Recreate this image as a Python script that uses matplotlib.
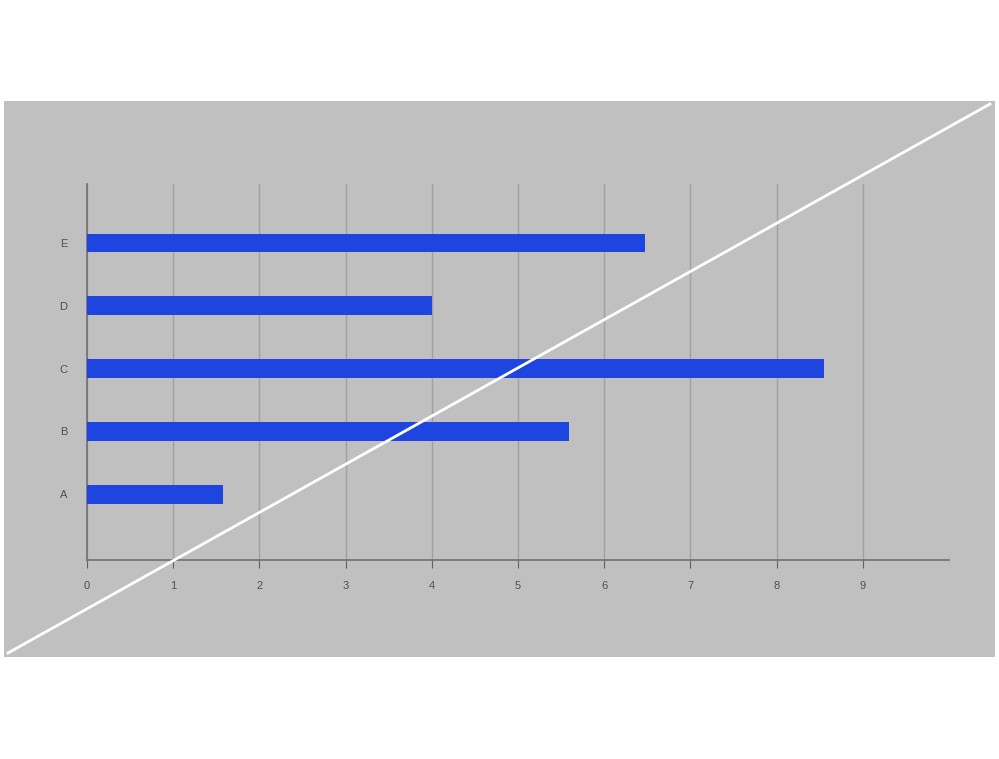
import matplotlib
matplotlib.use("Agg")
import matplotlib.pyplot as plt
from matplotlib.patches import Rectangle
from matplotlib.lines import Line2D

categories = ["A", "B", "C", "D", "E"]
values = [1.58, 5.59, 8.55, 4.0, 6.47]
x_ticks = [0, 1, 2, 3, 4, 5, 6, 7, 8, 9]

plt.rcParams['font.family'] = ['Liberation Sans', 'DejaVu Sans']

W, H = 999, 759
fig = plt.figure(figsize=(W / 100, H / 100), dpi=100)
fig.patch.set_facecolor("white")

# gray panel
fig.patches.append(Rectangle((4 / W, 1 - 657 / H), (995 - 4) / W, (657 - 101) / H,
                             transform=fig.transFigure, facecolor="#c0c0c0",
                             edgecolor="none", zorder=-10))

ax = fig.add_axes([87 / W, 1 - 560 / H, (949 - 87) / W, (560 - 184) / H])
ax.set_zorder(1)
ax.set_facecolor("none")
ypos = list(range(len(categories)))
ax.barh(ypos, values, height=0.3, color="#1f45e0", zorder=3)
ax.set_xlim(0, 10)
ax.set_ylim(-1.05, 4.94)
ax.set_xticks(x_ticks)
ax.set_xticklabels([str(t) for t in x_ticks])
ax.set_yticks(ypos)
ax.set_yticklabels(categories)
ax.grid(axis="x", color="#a0a0a0", linewidth=1.0, zorder=1)
for s in ["top", "right"]:
    ax.spines[s].set_visible(False)
for s in ["left", "bottom"]:
    ax.spines[s].set_color("#707070")
    ax.spines[s].set_linewidth(1.2)
ax.tick_params(axis="x", length=6, color="#606060", labelsize=8, labelcolor="#505050", pad=9)
ax.tick_params(axis="y", length=0, labelsize=8, labelcolor="#505050", pad=17)
for lbl in ax.get_yticklabels():
    lbl.set_horizontalalignment("center")

# white diagonal line across panel
fig.lines.append(Line2D([8 / W, 990 / W], [1 - 653 / H, 1 - 104 / H],
                        transform=fig.transFigure, color="white", linewidth=2, zorder=5))

fig.savefig("out.png", dpi=100)
